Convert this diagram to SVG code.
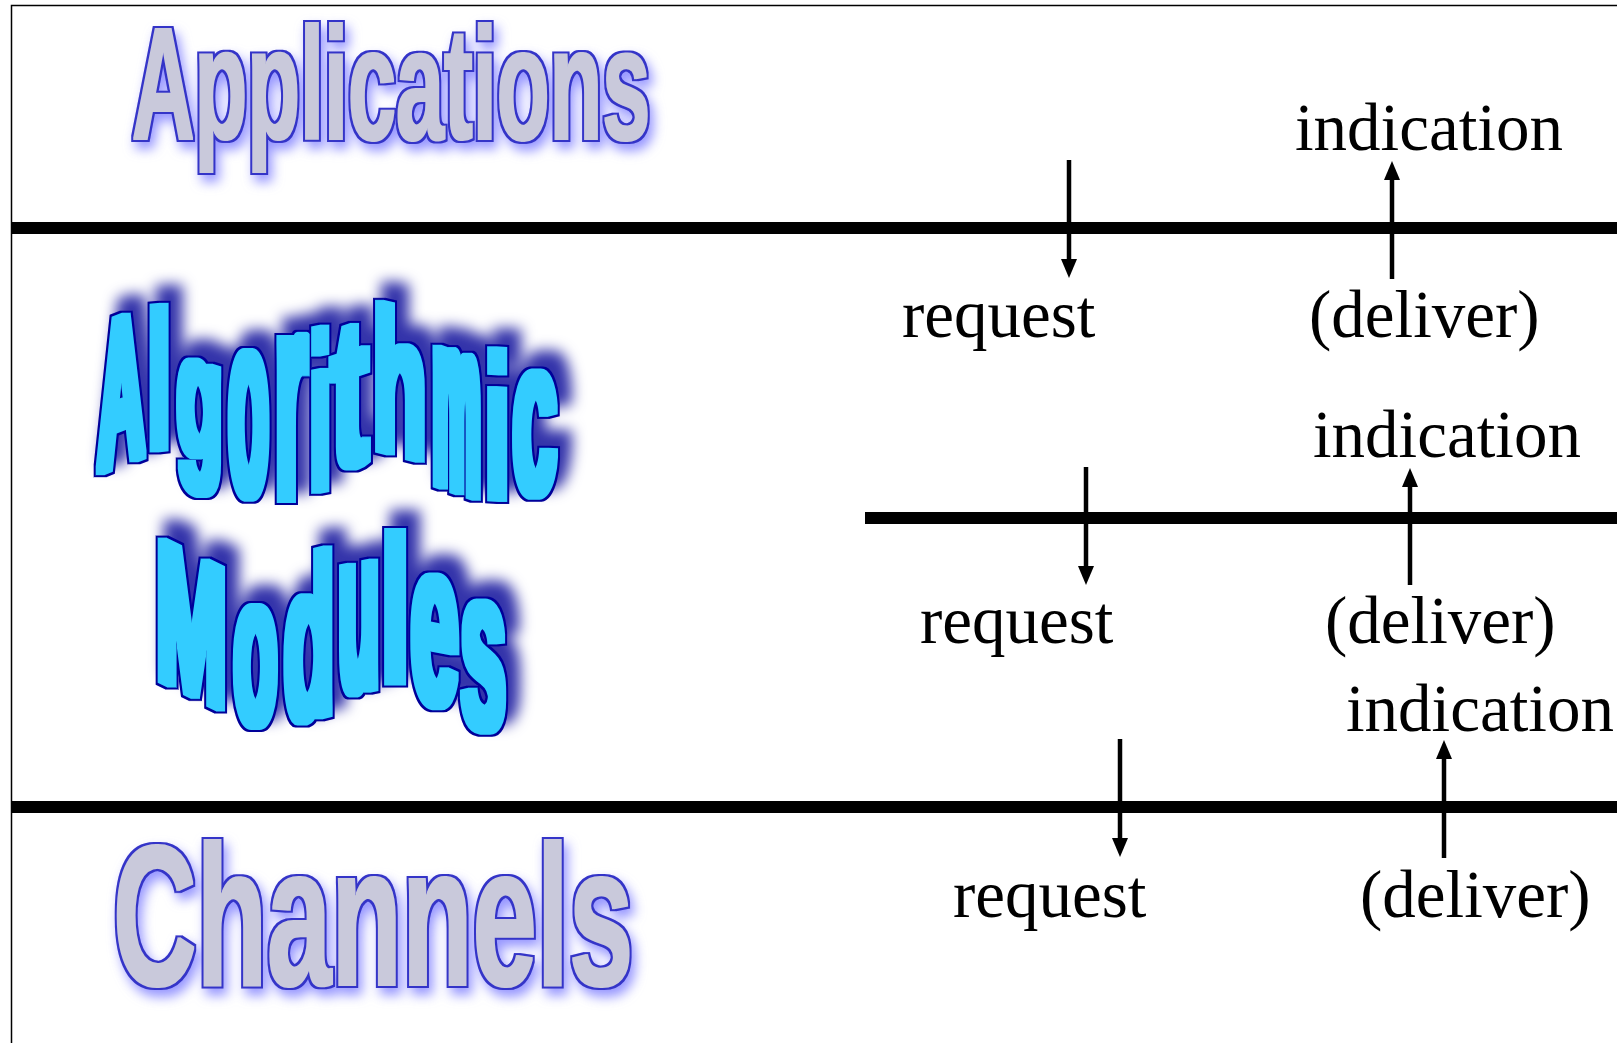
<svg xmlns="http://www.w3.org/2000/svg" width="1617" height="1043" viewBox="0 0 1617 1043">
<style>
.lbl{font-family:"Liberation Serif","Times New Roman",serif;font-size:67px;fill:#000}
.wave{font-family:"Liberation Sans",Arial,sans-serif;font-weight:bold;font-size:100px;fill:#33ccff}
.gray{font-family:"Liberation Sans",Arial,sans-serif;font-weight:bold;fill:#c9c9db}
.sep{stroke:#000;stroke-width:12;fill:none}
.arr{stroke:#000;stroke-width:4.5;fill:none;marker-end:url(#ah)}
</style>
<defs>
<marker id="ah" viewBox="0 0 19 16" refX="1" refY="8" markerWidth="19" markerHeight="16" markerUnits="userSpaceOnUse" orient="auto">
<path d="M0,0 L19,8 L0,16 Z" fill="#000"/>
</marker>
<filter id="fGray" x="-6%" y="-25%" width="115%" height="170%" color-interpolation-filters="sRGB">
<feMorphology in="SourceAlpha" operator="dilate" radius="1" result="core"/>
<feMorphology in="SourceAlpha" operator="dilate" radius="3" result="outer"/>
<feGaussianBlur in="outer" stdDeviation="6"/>
<feOffset dx="4" dy="7" result="b"/>
<feFlood flood-color="#6a6aff" flood-opacity="0.7"/>
<feComposite in2="b" operator="in" result="glow"/>
<feFlood flood-color="#3434c8"/>
<feComposite in2="outer" operator="in" result="ol"/>
<feFlood flood-color="#c9c9db"/>
<feComposite in2="core" operator="in" result="fill"/>
<feMerge><feMergeNode in="glow"/><feMergeNode in="ol"/><feMergeNode in="fill"/></feMerge>
</filter>
<filter id="fWave" x="-15%" y="-20%" width="135%" height="135%" color-interpolation-filters="sRGB">
<feMorphology in="SourceAlpha" operator="dilate" radius="4" result="core"/>
<feMorphology in="SourceAlpha" operator="dilate" radius="6" result="outer"/>
<feMorphology in="SourceAlpha" operator="dilate" radius="8"/>
<feGaussianBlur stdDeviation="7"/>
<feOffset dx="10" dy="-14" result="bo"/>
<feFlood flood-color="#3333aa"/>
<feComposite in2="bo" operator="in" result="shadow"/>
<feFlood flood-color="#000099"/>
<feComposite in2="outer" operator="in" result="ol"/>
<feFlood flood-color="#33ccff"/>
<feComposite in2="core" operator="in" result="fill"/>
<feMerge><feMergeNode in="shadow"/><feMergeNode in="ol"/><feMergeNode in="fill"/></feMerge>
</filter>
</defs>
<rect width="1617" height="1043" fill="#fff"/>
<g id="frame">
<path d="M11.5,1043 V5.5 H1617" fill="none" stroke="#000" stroke-width="1.5"/>
<line class="sep" x1="11" y1="228" x2="1617" y2="228"/>
<line class="sep" x1="865" y1="518" x2="1617" y2="518"/>
<line class="sep" x1="11" y1="807" x2="1617" y2="807"/>
</g>
<g id="applications" filter="url(#fGray)">
<text class="gray" font-size="160" transform="translate(132,139) scale(0.54,1)">Applications</text>
</g>
<g id="algorithmic-modules" filter="url(#fWave)">
<text class="wave" transform="translate(98,472) skewY(-21) scale(0.64,2.1)">A</text>
<text class="wave" transform="translate(148,449) skewY(-6) scale(0.8,1.94)">l</text>
<text class="wave" transform="translate(177,450) skewY(17) scale(0.74,1.74)">g</text>
<text class="wave" transform="translate(229,493) skewY(6) scale(0.64,2.66)">o</text>
<text class="wave" transform="translate(275,499) scale(0.82,3.03)">r</text>
<text class="wave" transform="translate(310,491) skewY(-11) scale(0.74,2.2)">i</text>
<text class="wave" transform="translate(331,472) skewY(-19) scale(1.12,2.1)">t</text>
<text class="wave" transform="translate(373,447) skewY(14) scale(0.87,2.0)">h</text>
<text class="wave" transform="translate(433,482) skewY(19) scale(0.53,2.55)">m</text>
<text class="wave" transform="translate(485,497) skewY(3) scale(0.88,2.03)">i</text>
<text class="wave" transform="translate(513,496) skewY(-6) scale(0.78,2.25)">c</text>
<text class="wave" transform="translate(156,676) skewY(26) scale(0.85,2.0)">M</text>
<text class="wave" transform="translate(234,724) scale(0.7,2.18)">o</text>
<text class="wave" transform="translate(284,724) skewY(-14) scale(0.82,2.26)">d</text>
<text class="wave" transform="translate(339,694) skewY(-11) scale(0.65,2.36)">u</text>
<text class="wave" transform="translate(381,681) scale(1.02,2.06)">l</text>
<text class="wave" transform="translate(411,699) skewY(11) scale(0.85,2.36)">e</text>
<text class="wave" transform="translate(461,724) skewY(11) scale(0.8,2.33)">s</text>
</g>
<g id="channels" filter="url(#fGray)">
<text class="gray" font-size="200" transform="translate(113,985) scale(0.578,1)">Channels</text>
</g>
<g id="connectors">
<line class="arr" x1="1069" y1="160" x2="1069" y2="260"/>
<line class="arr" x1="1392" y1="279" x2="1392" y2="179"/>
<line class="arr" x1="1086" y1="467" x2="1086" y2="567"/>
<line class="arr" x1="1410" y1="585" x2="1410" y2="486"/>
<line class="arr" x1="1120" y1="739" x2="1120" y2="839"/>
<line class="arr" x1="1444" y1="858" x2="1444" y2="758"/>
</g>
<g id="labels-top">
<text class="lbl" x="1295" y="150">indication</text>
<text class="lbl" x="902" y="337">request</text>
<text class="lbl" x="1309" y="337">(deliver)</text>
</g>
<g id="labels-middle">
<text class="lbl" x="1313" y="457">indication</text>
<text class="lbl" x="920" y="643">request</text>
<text class="lbl" x="1325" y="643">(deliver)</text>
</g>
<g id="labels-bottom">
<text class="lbl" x="1346" y="731">indication</text>
<text class="lbl" x="953" y="917">request</text>
<text class="lbl" x="1360" y="917">(deliver)</text>
</g>
</svg>
